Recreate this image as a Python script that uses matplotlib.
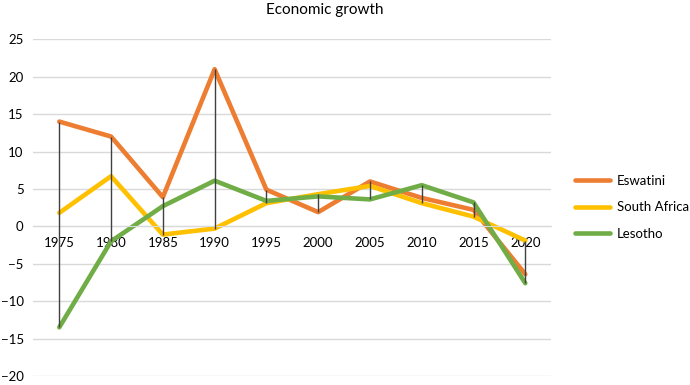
import matplotlib.pyplot as plt
import numpy as np

plt.rcParams['font.family'] = ['Lato', 'DejaVu Sans']

years = ['1975', '1980', '1985', '1990', '1995', '2000', '2005', '2010', '2015', '2020']
eswatini = [14.0, 12.0, 3.9, 21.0, 4.9, 1.9, 6.0, 3.8, 2.2, -6.4]
south_africa = [1.8, 6.7, -1.1, -0.3, 3.1, 4.3, 5.4, 3.1, 1.3, -1.9]
lesotho = [-13.5, -2.0, 2.7, 6.1, 3.4, 4.0, 3.6, 5.5, 3.2, -7.6]

series = [('Eswatini', eswatini, '#ED7D31'),
          ('South Africa', south_africa, '#FFC000'),
          ('Lesotho', lesotho, '#70AD47')]

fig = plt.figure(figsize=(6.9, 3.85), dpi=100)
ax = fig.add_axes([0.0484, 0.0234, 0.7504, 0.8746])

x = np.arange(len(years))
vals = np.array([eswatini, south_africa, lesotho])
# high-low lines like in the Excel chart
ax.vlines(x, vals.min(axis=0), vals.max(axis=0), color='#404040', linewidth=1.0, zorder=3)

for name, v, c in series:
    ax.plot(x, v, color=c, linewidth=3.3, label=name, solid_capstyle='round',
            solid_joinstyle='round', zorder=2)

ax.set_xlim(-0.5, len(years) - 0.5)
ax.set_ylim(-20, 25)
ax.set_yticks(np.arange(-20, 26, 5))
ax.yaxis.grid(True, color='#D9D9D9', linewidth=1.0)
ax.set_axisbelow(True)

for s in ['top', 'right', 'left']:
    ax.spines[s].set_visible(False)
ax.spines['bottom'].set_position(('data', 0))
ax.spines['bottom'].set_color('#D9D9D9')
ax.set_xticks(x)
ax.set_xticklabels(years)
ax.tick_params(axis='x', length=0, pad=8, labelsize=9.5)
ax.tick_params(axis='y', length=0, pad=7, labelsize=9.5)

fig.text(0.471, 0.974, 'Economic growth', fontsize=11, ha='center', va='center')

fig.legend(loc='center left', bbox_to_anchor=(0.833, 0.462), frameon=False,
           fontsize=9.5, handlelength=2.7, handletextpad=0.5, labelspacing=1.1,
           borderpad=0, borderaxespad=0)

fig.savefig('out.png', dpi=100)
